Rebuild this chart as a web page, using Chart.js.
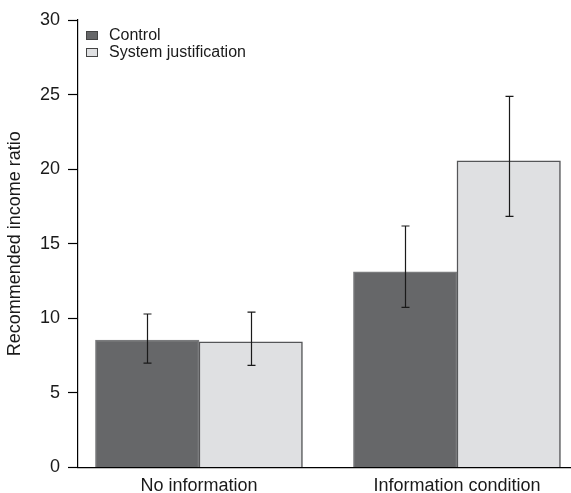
<!DOCTYPE html>
<html>
<head>
<meta charset="utf-8">
<script src="https://cdn.jsdelivr.net/npm/chart.js@4.4.0/dist/chart.umd.min.js"></script>
<style>
  html, body { margin: 0; padding: 0; background: #fff; }
  #wrap { width: 571px; height: 493px; }
</style>
</head>
<body>
<div id="wrap"><canvas id="c" width="571" height="493"></canvas></div>
<script>
const categories = ["No information", "Information condition"];
const seriesNames = ["Control", "System justification"];
const controlValues = [8.55, 13.12];
const sjValues = [8.43, 20.56];
const controlErrLow = [7.0, 10.74];
const controlErrHigh = [10.29, 16.19];
const sjErrLow = [6.85, 16.84];
const sjErrHigh = [10.42, 24.88];
const yTicks = [0, 5, 10, 15, 20, 25, 30];

const FONT = "'Liberation Sans', Arial, Helvetica, sans-serif";

const errorBars = {
  id: 'errorBars',
  afterDatasetsDraw(chart) {
    const ctx = chart.ctx;
    const y = chart.scales.y;
    ctx.save();
    ctx.strokeStyle = '#1a1a1a';
    ctx.lineWidth = 1.2;
    chart.data.datasets.forEach((ds, di) => {
      const meta = chart.getDatasetMeta(di);
      meta.data.forEach((bar, i) => {
        const x = Math.round(bar.x) + 0.5;
        const top = y.getPixelForValue(ds.errHigh[i]);
        const bot = y.getPixelForValue(ds.errLow[i]);
        ctx.beginPath();
        ctx.moveTo(x, top); ctx.lineTo(x, bot);
        ctx.moveTo(x - 4, top); ctx.lineTo(x + 4, top);
        ctx.moveTo(x - 4, bot); ctx.lineTo(x + 4, bot);
        ctx.stroke();
      });
    });
    ctx.restore();
  }
};

const insideLegend = {
  id: 'insideLegend',
  afterDraw(chart) {
    const ctx = chart.ctx;
    ctx.save();
    ctx.font = '16px ' + FONT;
    ctx.textBaseline = 'middle';
    chart.data.datasets.forEach((ds, i) => {
      const cy = 35.5 + i * 17;
      ctx.fillStyle = ds.backgroundColor;
      ctx.fillRect(86.5, cy - 4, 11, 8);
      ctx.strokeStyle = '#444';
      ctx.lineWidth = 1;
      ctx.strokeRect(86.5, cy - 4, 11, 8);
      ctx.fillStyle = '#1a1a1a';
      ctx.fillText(ds.label, 109, cy);
    });
    ctx.restore();
  }
};

new Chart(document.getElementById('c'), {
  type: 'bar',
  data: {
    datasets: [
      {
        label: seriesNames[0],
        data: categories.map((c, i) => ({ x: i, y: controlValues[i] })),
        errLow: controlErrLow, errHigh: controlErrHigh,
        backgroundColor: '#666769',
        borderColor: '#7a7b7d',
        borderWidth: 1.5,
        barThickness: 103.5
      },
      {
        label: seriesNames[1],
        data: categories.map((c, i) => ({ x: i, y: sjValues[i] })),
        errLow: sjErrLow, errHigh: sjErrHigh,
        backgroundColor: '#dfe0e2',
        borderColor: '#555658',
        borderWidth: 1.5,
        barThickness: 103.5
      }
    ]
  },
  options: {
    responsive: false,
    animation: false,
    layout: { padding: { top: 20, right: 0, bottom: 0, left: 0 } },
    plugins: { legend: { display: false }, tooltip: { enabled: false } },
    scales: {
      x: {
        type: 'linear',
        offset: false,
        min: -0.47,
        max: 1.442,
        afterBuildTicks: s => { s.ticks = categories.map((c, i) => ({ value: i })); },
        afterFit: s => { s.height = 25.5; },
        grid: { display: false, drawTicks: false, offset: false },
        border: { display: true, color: '#000', width: 1.2 },
        ticks: {
          callback: v => categories[v],
          color: '#1a1a1a',
          font: { size: 18, family: FONT },
          padding: 8,
          maxRotation: 0,
          autoSkip: false
        }
      },
      y: {
        min: 0,
        max: 30,
        afterBuildTicks: s => { s.ticks = yTicks.map(v => ({ value: v })); },
        afterFit: s => { s.width = 77.7; },
        grid: { drawOnChartArea: false, drawTicks: true, tickLength: 9.7, tickColor: '#000', tickWidth: 1.2 },
        border: { display: true, color: '#000', width: 1.2 },
        ticks: {
          color: '#1a1a1a',
          font: { size: 18, family: FONT },
          padding: 8
        },
        title: {
          display: true,
          text: 'Recommended income ratio',
          color: '#1a1a1a',
          font: { size: 18, family: FONT },
          padding: { top: 4, bottom: 0 }
        }
      }
    }
  },
  plugins: [errorBars, insideLegend]
});
</script>
</body>
</html>
